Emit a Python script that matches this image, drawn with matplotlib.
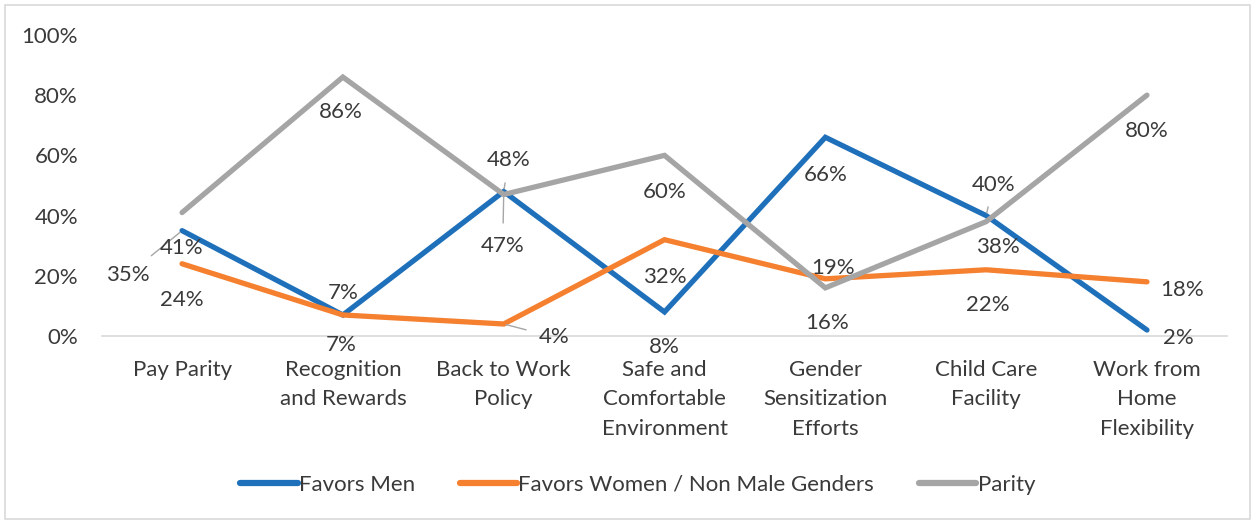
import matplotlib
matplotlib.use("Agg")
import matplotlib.pyplot as plt
from matplotlib.patches import Rectangle

categories = ["Pay Parity", "Recognition\nand Rewards", "Back to Work\nPolicy",
              "Safe and\nComfortable\nEnvironment", "Gender\nSensitization\nEfforts",
              "Child Care\nFacility", "Work from\nHome\nFlexibility"]
favors_men = [35, 7, 48, 8, 66, 40, 2]
favors_women = [24, 7, 4, 32, 19, 22, 18]
parity = [41, 86, 47, 60, 16, 38, 80]

# label offsets in pixels (dx, dy) and whether a leader line is drawn
men_offsets = [(-54, -44), (-2, -30), (5, 31), (0, -35), (0, -38), (7, 31), (31, -8)]
men_leader = [True, False, True, False, False, True, False]
women_offsets = [(0, -36), (0, 22), (50, -13), (0, -37), (8, 11), (2, -35), (35, -8)]
women_leader = [False, False, True, False, False, False, False]
parity_offsets = [(0, -35), (-2, -35), (-1, -51), (0, -37), (2, -35), (12, -25), (0, -36)]
parity_leader = [False, False, True, False, False, False, False]

BLUE = "#1F70BA"
ORANGE = "#F5802F"
GRAY = "#A5A5A5"
TEXT = "#3A3A3A"
FS = 16

plt.rcParams["font.family"] = ["Lato", "DejaVu Sans"]

fig = plt.figure(figsize=(12.55, 5.21), dpi=100)
ax = fig.add_axes([0.081, 0.355, 0.897, 0.578])

x = list(range(len(categories)))
series = [
    (favors_men, BLUE, "Favors Men", men_offsets, men_leader),
    (favors_women, ORANGE, "Favors Women / Non Male Genders", women_offsets, women_leader),
    (parity, GRAY, "Parity", parity_offsets, parity_leader),
]
for vals, color, name, offs, leads in series:
    ax.plot(x, vals, color=color, lw=3.8, label=name, solid_capstyle="round",
            solid_joinstyle="miter")

for vals, color, name, offs, leads in series:
    for xi, v, (dx, dy), lead in zip(x, vals, offs, leads):
        props = None
        if lead:
            props = dict(arrowstyle="-", color="#A6A6A6", lw=1.0, shrinkA=7, shrinkB=2)
        ax.annotate(f"{v}%", (xi, v), xytext=(dx, dy), textcoords="offset pixels",
                    ha="center", va="center", fontsize=FS, color=TEXT,
                    arrowprops=props)

ax.set_xlim(-0.5, len(categories) - 0.5)
ax.set_ylim(0, 100)
ax.set_yticks(range(0, 101, 20))
ax.set_yticklabels([f"{t}%" for t in range(0, 101, 20)])
ax.set_xticks(x)
ax.set_xticklabels(categories, linespacing=1.6, va="top")
ax.tick_params(axis="both", length=0, labelsize=FS, labelcolor=TEXT)
ax.tick_params(axis="y", pad=17)
ax.tick_params(axis="x", pad=17)
for side in ["top", "right", "left"]:
    ax.spines[side].set_visible(False)
ax.spines["bottom"].set_color("#D9D9D9")
ax.spines["bottom"].set_linewidth(1.2)

leg = fig.legend(loc="center", bbox_to_anchor=(0.508, 0.07), ncol=3, frameon=False,
                 fontsize=FS, handlelength=2.6, columnspacing=2.0, handletextpad=0.05)
for line in leg.get_lines():
    line.set_linewidth(4.5)
for t in leg.get_texts():
    t.set_color(TEXT)

fig.patches.append(Rectangle((0.004, 0.004), 0.992, 0.986, transform=fig.transFigure,
                             fill=False, edgecolor="#D9D9D9", lw=1.2))

fig.savefig("out.png", dpi=100)
